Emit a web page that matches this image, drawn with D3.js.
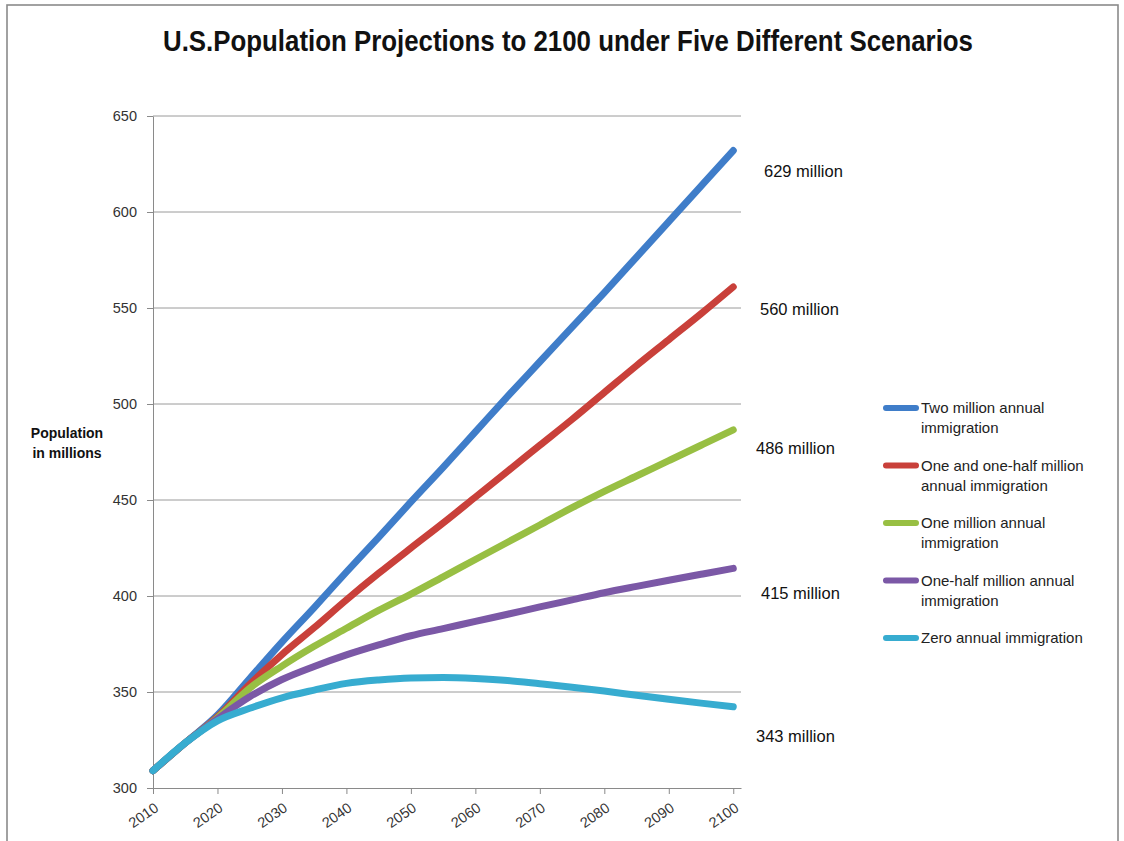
<!DOCTYPE html>
<html>
<head>
<meta charset="utf-8">
<script src="https://cdn.jsdelivr.net/npm/d3@7"></script>
<style>
  html, body { margin: 0; padding: 0; background: #fff; }
  svg { display: block; }
</style>
</head>
<body>
<svg id="chart" width="1124" height="841"></svg>
<script>
// ---- data ----
const years = [2010, 2015, 2020, 2025, 2030, 2035, 2040, 2045, 2050, 2055, 2060, 2065, 2070, 2075, 2080, 2085, 2090, 2095, 2100];
const twoMillion     = [309, 323.5, 338, 357, 376, 394, 412.5, 430.5, 449, 467, 485.5, 504, 522, 540, 558, 576.5, 595, 613.5, 632];
const oneHalfMillion = [309, 323.5, 337, 354, 369.5, 383.5, 398, 411.8, 425, 438, 451.5, 465, 478.5, 492, 506, 520, 533.5, 547, 561];
const oneMillion     = [309, 323.5, 336.5, 352, 363.5, 373.8, 383.2, 392.5, 401, 410, 419, 428, 437, 446, 454.5, 462.5, 470.5, 478.5, 486.5];
const halfMillion    = [309, 323.5, 336, 347.5, 356.5, 363.3, 369.3, 374.5, 379.3, 383, 386.8, 390.5, 394.3, 398, 401.7, 405, 408.2, 411.3, 414.4];
const zeroImmigration= [309, 323.5, 335, 341.5, 347, 351, 354.5, 356.3, 357.3, 357.5, 357, 356, 354.3, 352.5, 350.5, 348.3, 346.2, 344.2, 342.3];
const seriesNames = [
  ["Two million annual", "immigration"],
  ["One and one-half million", "annual immigration"],
  ["One million annual", "immigration"],
  ["One-half million annual", "immigration"],
  ["Zero annual immigration"]
];
const endLabels = ["629 million", "560 million", "486 million", "415 million", "343 million"];
const yTicks = [300, 350, 400, 450, 500, 550, 600, 650];
const xTicks = [2010, 2020, 2030, 2040, 2050, 2060, 2070, 2080, 2090, 2100];
const titleText = "U.S.Population Projections to 2100 under Five Different Scenarios";
const yTitle = ["Population", "in millions"];

// ---- styling / layout ----
const colors = ["#3f7dc9", "#c9403a", "#98bf43", "#7b58a6", "#37acd0"];
const labelDy = [21, 23, 19, 26, 30];
const labelX = [764, 760, 756, 761, 756];
const allSeries = [twoMillion, oneHalfMillion, oneMillion, halfMillion, zeroImmigration];

const svg = d3.select("#chart");
const font = "'Liberation Sans', Arial, sans-serif";

// frame
svg.append("rect").attr("x", 7).attr("y", 5).attr("width", 1111).attr("height", 860)
  .attr("fill", "none").attr("stroke", "#8a8a8a").attr("stroke-width", 1.6);

const x = d3.scaleLinear().domain([2010, 2101.2]).range([153, 741]);
const y = d3.scaleLinear().domain([300, 650]).range([788, 116]);

// title
svg.append("text")
  .attr("x", 568).attr("y", 51)
  .attr("text-anchor", "middle")
  .attr("font-family", "'Liberation Sans Narrow', 'Arial Narrow', " + font)
  .attr("font-weight", "bold").attr("font-size", 30)
  .attr("textLength", 810).attr("lengthAdjust", "spacingAndGlyphs")
  .attr("fill", "#111")
  .text(titleText);

// gridlines
svg.append("g").selectAll("line").data(yTicks.filter(d => d > 300)).join("line")
  .attr("x1", 153).attr("x2", 741)
  .attr("y1", d => y(d)).attr("y2", d => y(d))
  .attr("stroke", "#9a9a9a").attr("stroke-width", 1);

// y axis
const yAxis = svg.append("g").attr("transform", "translate(153,0)")
  .call(d3.axisLeft(y).tickValues(yTicks).tickSize(6).tickSizeOuter(0).tickPadding(10));
yAxis.select(".domain").attr("stroke", "#8a8a8a");
yAxis.selectAll(".tick line").attr("stroke", "#8a8a8a");
yAxis.selectAll("text").attr("font-family", font).attr("font-size", 14.5).attr("fill", "#333");

// x axis
const xAxis = svg.append("g").attr("transform", "translate(0,788)")
  .call(d3.axisBottom(x).tickValues(xTicks).tickFormat(d3.format("d")).tickSize(6).tickSizeOuter(0));
xAxis.select(".domain").attr("stroke", "#8a8a8a");
xAxis.selectAll(".tick line").attr("stroke", "#8a8a8a");
xAxis.selectAll("text")
  .attr("font-family", font).attr("font-size", 14.5).attr("fill", "#333")
  .attr("text-anchor", "end")
  .attr("dy", null)
  .attr("transform", "translate(6,22) rotate(-35)")
  .attr("y", 0).attr("x", 0);

// y title
svg.append("g").selectAll("text").data(yTitle).join("text")
  .attr("x", 67).attr("y", (d, i) => 438 + i * 20)
  .attr("text-anchor", "middle")
  .attr("font-family", font).attr("font-weight", "bold").attr("font-size", 14)
  .attr("fill", "#111")
  .text(d => d);

// lines
const line = d3.line()
  .x((d, i) => x(years[i]))
  .y(d => y(d))
  .curve(d3.curveMonotoneX);

svg.append("g").selectAll("path").data(allSeries).join("path")
  .attr("d", d => line(d))
  .attr("fill", "none")
  .attr("stroke", (d, i) => colors[i])
  .attr("stroke-width", 7)
  .attr("stroke-linecap", "round")
  .attr("stroke-linejoin", "round");

// end labels
svg.append("g").selectAll("text").data(endLabels).join("text")
  .attr("x", (d, i) => labelX[i])
  .attr("y", (d, i) => y(allSeries[i][allSeries[i].length - 1]) + labelDy[i] + 5)
  .attr("font-family", font).attr("font-size", 16.5).attr("fill", "#111")
  .text(d => d);

// legend
const legend = svg.append("g");
seriesNames.forEach((lines, i) => {
  const ly = 408 + i * 57.5;
  legend.append("line")
    .attr("x1", 886).attr("x2", 916).attr("y1", ly).attr("y2", ly)
    .attr("stroke", colors[i]).attr("stroke-width", 6).attr("stroke-linecap", "round");
  lines.forEach((t, j) => {
    legend.append("text")
      .attr("x", 921).attr("y", ly + 5 + j * 20)
      .attr("font-family", font).attr("font-size", 15).attr("fill", "#222")
      .text(t);
  });
});
</script>
</body>
</html>
